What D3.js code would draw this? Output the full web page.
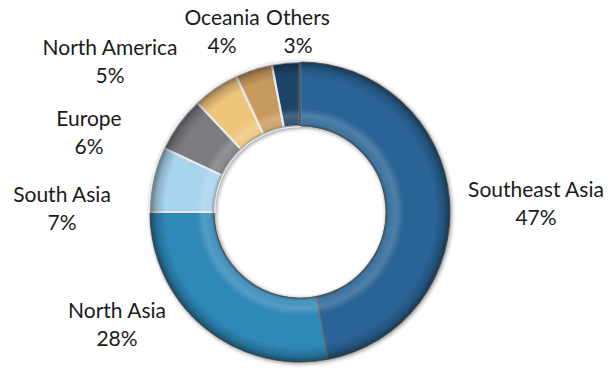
<!DOCTYPE html>
<html>
<head>
<meta charset="utf-8">
<script src="https://cdn.jsdelivr.net/npm/d3@7"></script>
<style>
  html, body { margin: 0; padding: 0; background: #fff; }
  svg { display: block; }
  text { font-family: Lato, "Open Sans", sans-serif; fill: #1a1a1a; }
</style>
</head>
<body>
<svg id="chart" width="610" height="372"></svg>
<script>
// Share of the total by region (percent)
const categories = ["Southeast Asia", "North Asia", "South Asia", "Europe", "North America", "Oceania", "Others"];
const values = [47, 28, 7, 6, 5, 4, 3];
const palette = ["#2a6496", "#2f88b8", "#a8d4ee", "#7a7c80", "#eec57a", "#c89a5c", "#1d4569"];

const width = 610, height = 372;
const cx = 300, cy = 212;
const outerR = 150, innerR = 86;

const svg = d3.select("#chart");
const defs = svg.append("defs");

// Soft shadow around the ring
const shadow = defs.append("filter").attr("id", "shadow")
  .attr("x", "-20%").attr("y", "-20%").attr("width", "140%").attr("height", "140%");
shadow.append("feGaussianBlur").attr("in", "SourceAlpha").attr("stdDeviation", 2).attr("result", "b");
shadow.append("feOffset").attr("in", "b").attr("dx", 1).attr("dy", 1).attr("result", "o");
shadow.append("feComponentTransfer").attr("in", "o").attr("result", "s")
  .append("feFuncA").attr("type", "linear").attr("slope", 0.45);
const merge = shadow.append("feMerge");
merge.append("feMergeNode").attr("in", "s");
merge.append("feMergeNode").attr("in", "SourceGraphic");

// Bevel shading: darker at the inner and outer rims, a lighter band just inside
const bevel = defs.append("radialGradient").attr("id", "bevel")
  .attr("gradientUnits", "userSpaceOnUse")
  .attr("cx", 0).attr("cy", 0).attr("r", outerR);
const k = innerR / outerR;
[
  [k, "#000", 0.35],
  [k + 0.025, "#fff", 0.10],
  [k + 0.07, "#fff", 0.18],
  [k + 0.12, "#fff", 0.0],
  [0.9, "#000", 0.0],
  [0.96, "#000", 0.18],
  [1.0, "#000", 0.45]
].forEach(([o, c, a]) => bevel.append("stop")
  .attr("offset", o).attr("stop-color", c).attr("stop-opacity", a));

const pie = d3.pie().sort(null).value(d => d)(values);
const arc = d3.arc().innerRadius(innerR).outerRadius(outerR);

const g = svg.append("g").attr("transform", `translate(${cx},${cy})`);
const ring = g.append("g").attr("filter", "url(#shadow)");

ring.selectAll("path.slice")
  .data(pie)
  .join("path")
  .attr("class", "slice")
  .attr("d", arc)
  .attr("fill", (d, i) => palette[i])
  .attr("stroke", (d, i) => i < 2 ? "#6d6d6d" : "#e9e9e9")
  .attr("stroke-width", (d, i) => i < 2 ? 1.2 : 2.2);

ring.selectAll("path.shade")
  .data(pie)
  .join("path")
  .attr("class", "shade")
  .attr("d", arc)
  .attr("fill", "url(#bevel)")
  .attr("stroke", "none");

// Separator between Others and Southeast Asia
g.append("line")
  .attr("x1", 0).attr("y1", -innerR).attr("x2", 0).attr("y2", -outerR)
  .attr("stroke", "#5a5a5a").attr("stroke-width", 2);

// Label anchor points (name baseline), each label centred on its point
const labelPos = [
  [536, 197], [117, 318], [62, 202], [89, 126], [110, 55], [222, 25], [298, 25]
];
const fontSize = 21;
const lineGap = 28;

const labels = svg.append("g").attr("class", "labels");
pie.forEach((d, i) => {
  const [x, y] = labelPos[i];
  const t = labels.append("text")
    .attr("x", x).attr("y", y)
    .attr("text-anchor", "middle")
    .attr("font-size", fontSize);
  t.append("tspan").attr("x", x).text(categories[i]);
  t.append("tspan").attr("x", x).attr("dy", lineGap).text(d3.format(".0f")(d.value) + "%");
});
</script>
</body>
</html>
